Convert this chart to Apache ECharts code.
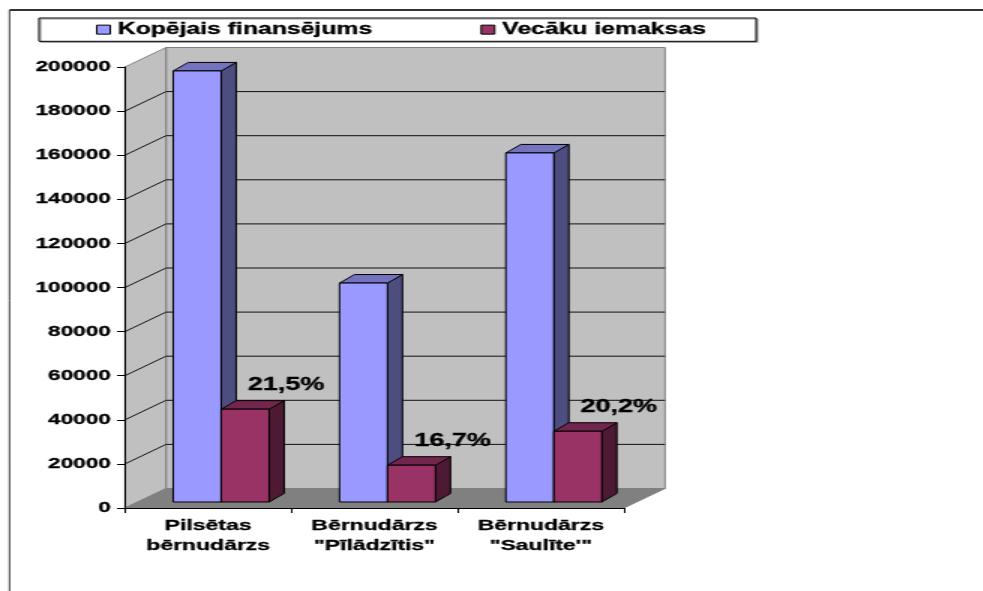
<!DOCTYPE html>
<html>
<head>
<meta charset="utf-8">
<style>
  html, body { margin: 0; padding: 0; background: #fff; overflow: hidden; }
  /* the reference is a picture stretched sideways, so the whole chart is stretched too */
  #chart { width: 656px; height: 591px; transform: scaleX(1.5); transform-origin: 0 0; }
</style>
<script src="https://cdn.jsdelivr.net/npm/echarts@6/dist/echarts.min.js"></script>
</head>
<body>
<div id="chart"></div>
<script>
const categories = ['Pilsētas\nbērnudārzs', 'Bērnudārzs\n"Pīlādzītis"', 'Bērnudārzs\n"Saulīte\'"'];
const totalName = 'Kopējais finansējums';
const parentName = 'Vecāku iemaksas';
const totalValues = [195500, 99300, 158300];
const parentValues = [42100, 16700, 32100];
const shareLabels = ['21,5%', '16,7%', '20,2%'];
const yTicks = [0, 20000, 40000, 60000, 80000, 100000, 120000, 140000, 160000, 180000, 200000];

const SX = 1.5;               // horizontal stretch of the page
const FONT = '"Liberation Sans", Arial, sans-serif';
const WALL = { dx: 41 / SX, dy: -19.5 };   // depth of the whole 3d box
const GAP = { dx: 13 / SX, dy: -6 };       // bars stand a bit inside the floor
const BAR = { w: 48 / SX, dx: 15 / SX, dy: -8.5 };
const HEAVY = { textBorderColor: '#000', textBorderWidth: 0.3 };  // reference text is a bit heavier than plain bold

function renderWalls(params, api) {
  const c = params.coordSys;
  const l = c.x, r = c.x + c.width, t = c.y, b = c.y + c.height;
  const dx = WALL.dx, dy = WALL.dy;
  const edge = { stroke: '#808080', lineWidth: 1 };
  return {
    type: 'group',
    children: [
      { type: 'polygon', shape: { points: [[l + dx, t + dy], [r + dx, t + dy], [r + dx, b + dy], [l + dx, b + dy]] },
        style: Object.assign({ fill: '#c0c0c0' }, edge) },
      { type: 'polygon', shape: { points: [[l, t], [l + dx, t + dy], [l + dx, b + dy], [l, b]] },
        style: Object.assign({ fill: '#c0c0c0' }, edge) },
      { type: 'polygon', shape: { points: [[l, b], [r, b], [r + dx, b + dy], [l + dx, b + dy]] },
        style: Object.assign({ fill: '#808080' }, edge) }
    ]
  };
}

function renderGridLine(params, api) {
  const v = api.value(0);
  if (v === yTicks[0] || v === yTicks[yTicks.length - 1]) return null;
  const c = params.coordSys;
  const y = api.coord([0, v])[1];
  const x0 = c.x, x1 = c.x + WALL.dx, x2 = x1 + c.width;
  const y1 = y + WALL.dy;
  return {
    type: 'polyline',
    shape: { points: [[x0, y], [x1, y1], [x2, y1]] },
    style: { fill: null, stroke: '#111', lineWidth: 1 }
  };
}

function barRenderer(side, front, topFace, sideFace, withLabel) {
  return function (params, api) {
    const cat = api.value(0);
    const top = api.coord([cat, api.value(1)]);
    const base = api.coord([cat, 0]);
    const x0 = top[0] + GAP.dx + (side === 0 ? -BAR.w : 0);
    const x1 = x0 + BAR.w;
    const y0 = top[1] + GAP.dy;
    const y1 = base[1] + GAP.dy;
    const dx = BAR.dx, dy = BAR.dy;
    const line = { stroke: '#000', lineWidth: 1, lineJoin: 'round' };
    const children = [
      { type: 'polygon', shape: { points: [[x1, y0], [x1 + dx, y0 + dy], [x1 + dx, y1 + dy], [x1, y1]] },
        style: Object.assign({ fill: sideFace }, line) },
      { type: 'polygon', shape: { points: [[x0, y0], [x0 + dx, y0 + dy], [x1 + dx, y0 + dy], [x1, y0]] },
        style: Object.assign({ fill: topFace }, line) },
      { type: 'polygon', shape: { points: [[x0, y0], [x1, y0], [x1, y1], [x0, y1]] },
        style: Object.assign({ fill: front }, line) }
    ];
    if (withLabel) {
      children.push({
        type: 'text',
        style: Object.assign({
          x: x0 + BAR.w / 2 + 41 / SX, y: y0 - 24,
          text: shareLabels[params.dataIndex],
          font: 'bold 18px ' + FONT, fill: '#000', align: 'center', verticalAlign: 'middle'
        }, { stroke: '#000', lineWidth: 0.3 })
      });
    }
    return { type: 'group', children: children };
  };
}

const chart = echarts.init(document.getElementById('chart'));
chart.setOption({
  animation: false,
  textStyle: { fontFamily: FONT },
  grid: { left: 125 / SX, top: 67, width: 499 / SX, height: 441 },
  legend: {
    left: 39 / SX, top: 18,
    padding: [3, 50 / SX, 3, 57 / SX],
    itemWidth: 9, itemHeight: 9, itemGap: 72,
    selectedMode: false,
    backgroundColor: '#fff', borderColor: '#000', borderWidth: 1,
    shadowColor: '#999', shadowOffsetX: 1, shadowOffsetY: 1,
    textStyle: Object.assign({ fontFamily: FONT, fontWeight: 'bold', fontSize: 16.5, color: '#000' }, HEAVY),
    data: [
      { name: totalName, icon: 'rect', itemStyle: { color: '#9999ff', borderColor: '#000', borderWidth: 1 } },
      { name: parentName, icon: 'rect', itemStyle: { color: '#993366', borderColor: '#000', borderWidth: 1 } }
    ]
  },
  xAxis: {
    type: 'category', data: categories, z: 5,
    axisLine: { lineStyle: { color: '#000', width: 1 } },
    axisTick: { show: true, length: 5, lineStyle: { color: '#000' } },
    axisLabel: Object.assign({ color: '#000', fontFamily: FONT, fontWeight: 'bold', fontSize: 15.3, lineHeight: 20, margin: 8, interval: 0 }, HEAVY)
  },
  yAxis: {
    type: 'value', min: yTicks[0], max: yTicks[yTicks.length - 1], interval: yTicks[1] - yTicks[0], z: 5,
    axisLine: { show: true, lineStyle: { color: '#000', width: 1 } },
    axisTick: { show: true, length: 8 / SX, lineStyle: { color: '#000' } },
    axisLabel: Object.assign({ color: '#000', fontFamily: FONT, fontWeight: 'bold', fontSize: 15, margin: 9.5, formatter: v => String(v) }, HEAVY),
    splitLine: { show: false }
  },
  graphic: [
    { type: 'line', silent: true, shape: { x1: 9.5 / SX, y1: 10, x2: 656, y2: 10 }, style: { stroke: '#333', lineWidth: 2 } },
    { type: 'line', silent: true, shape: { x1: 9.5 / SX, y1: 10, x2: 9.5 / SX, y2: 591 }, style: { stroke: '#333', lineWidth: 1 } }
  ],
  series: [
    { type: 'custom', name: 'walls', silent: true, clip: false, z: 1, data: [[0]], renderItem: renderWalls },
    { type: 'custom', name: 'grid', silent: true, clip: false, z: 1.5, data: yTicks.map(v => [v]), renderItem: renderGridLine },
    { type: 'custom', name: totalName, clip: false, z: 2, encode: { x: 0, y: 1 },
      data: totalValues.map((v, i) => [i, v]),
      renderItem: barRenderer(0, '#9999ff', '#7373bf', '#4d4d80', false) },
    { type: 'custom', name: parentName, clip: false, z: 3, encode: { x: 0, y: 1 },
      data: parentValues.map((v, i) => [i, v]),
      renderItem: barRenderer(1, '#993366', '#73264d', '#4d1933', true) }
  ]
});
</script>
</body>
</html>
